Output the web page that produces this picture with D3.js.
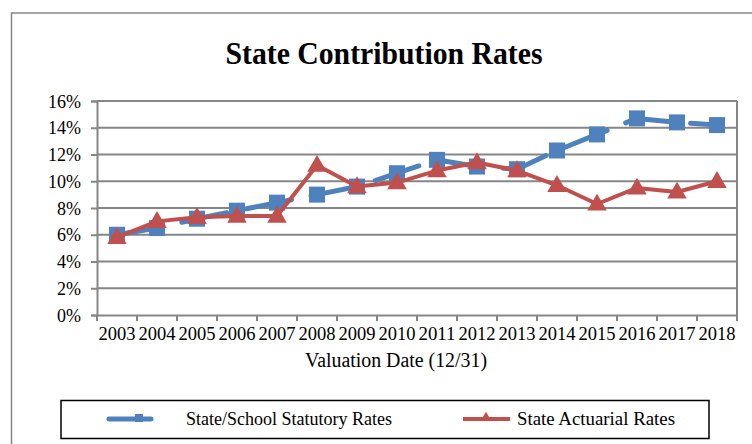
<!DOCTYPE html>
<html>
<head>
<meta charset="utf-8">
<script src="https://cdn.jsdelivr.net/npm/d3@7"></script>
<style>
  body { margin: 0; background: #fff; }
  svg text { font-family: "Liberation Serif", "Times New Roman", serif; fill: #000; }
</style>
</head>
<body>
<svg id="chart" width="752" height="444"></svg>
<script>
// ---- data ----
var years = ["2003","2004","2005","2006","2007","2008","2009","2010",
             "2011","2012","2013","2014","2015","2016","2017","2018"];
var statutory = [6.0, 6.5, 7.2, 7.8, 8.4, 9.0, 9.6, 10.6, 11.6, 11.1, 10.9, 12.3, 13.5, 14.7, 14.4, 14.2];
var actuarial = [5.8, 7.0, 7.3, 7.4, 7.4, 11.2, 9.6, 9.9, 10.8, 11.4, 10.8, 9.7, 8.3, 9.5, 9.2, 10.0];
var yTicks = [0, 2, 4, 6, 8, 10, 12, 14, 16];

var blue = "#4F81BD", red = "#C0504D", grid = "#868686";
var serif = '"Liberation Serif", "Times New Roman", serif';

var svg = d3.select("#chart");

// outer chart frame (runs off the right/bottom edge)
svg.append("rect")
  .attr("x", 11.5).attr("y", 13)
  .attr("width", 800).attr("height", 500)
  .attr("fill", "none").attr("stroke", grid).attr("stroke-width", 1.5);

// title
svg.append("text")
  .attr("x", 384).attr("y", 64)
  .attr("text-anchor", "middle")
  .attr("textLength", 317).attr("lengthAdjust", "spacingAndGlyphs")
  .style("font-size", "31px").style("font-weight", "bold")
  .text("State Contribution Rates");

var plot = { left: 97, right: 737, top: 101, bottom: 315 };

var x = d3.scaleBand().domain(years).range([plot.left, plot.right]);
var y = d3.scaleLinear().domain([0, 16]).range([plot.bottom, plot.top]);

// gridlines
svg.append("g").selectAll("line")
  .data(yTicks.filter(function(d){ return d > 0; }))
  .join("line")
  .attr("x1", plot.left).attr("x2", plot.right)
  .attr("y1", function(d){ return y(d); }).attr("y2", function(d){ return y(d); })
  .attr("stroke", grid).attr("stroke-width", 2);

// right border of plot area
svg.append("line")
  .attr("x1", plot.right).attr("x2", plot.right)
  .attr("y1", plot.top).attr("y2", plot.bottom)
  .attr("stroke", grid).attr("stroke-width", 2);

// y axis
var yAxis = svg.append("g")
  .attr("transform", "translate(" + plot.left + ",0)")
  .call(d3.axisLeft(y).tickValues(yTicks).tickSize(6).tickPadding(10)
        .tickFormat(function(d){ return d + "%"; }));
yAxis.attr("font-family", null).attr("font-size", null);
yAxis.select(".domain").attr("stroke", grid).attr("stroke-width", 2);
yAxis.selectAll(".tick line").attr("stroke", grid).attr("stroke-width", 2);
yAxis.selectAll("text")
  .attr("font-family", serif).attr("font-size", 19)
  .style("font-size", "19px").style("font-family", serif)
  .attr("textLength", 33).attr("lengthAdjust", "spacingAndGlyphs")
  .filter(function(d){ return d < 10; })
  .attr("textLength", 24);

// x axis: ticks sit between categories
var xAxis = svg.append("g")
  .attr("transform", "translate(0," + plot.bottom + ")")
  .call(d3.axisBottom(x).tickSize(0).tickPadding(12));
xAxis.attr("font-family", null).attr("font-size", null);
xAxis.select(".domain").attr("stroke", grid).attr("stroke-width", 2);
xAxis.selectAll("text")
  .attr("font-family", serif).attr("font-size", 19)
  .style("font-size", "19px").style("font-family", serif)
  .attr("textLength", 37).attr("lengthAdjust", "spacingAndGlyphs");
xAxis.selectAll(".sep")
  .data(d3.range(years.length + 1))
  .join("line")
  .attr("class", "sep")
  .attr("x1", function(i){ return plot.left + i * x.step(); })
  .attr("x2", function(i){ return plot.left + i * x.step(); })
  .attr("y1", 0).attr("y2", 6)
  .attr("stroke", grid).attr("stroke-width", 2);

// axis title
svg.append("text")
  .attr("x", 396).attr("y", 367)
  .attr("text-anchor", "middle")
  .attr("textLength", 182).attr("lengthAdjust", "spacingAndGlyphs")
  .style("font-size", "20.5px")
  .text("Valuation Date (12/31)");

var cx = function(d, i){ return x(years[i]) + x.bandwidth() / 2; };
var line = d3.line().x(function(d, i){ return cx(d, i); }).y(function(d){ return y(d); });

// statutory series: long-dash blue with squares
svg.append("path")
  .datum(statutory)
  .attr("d", line)
  .attr("fill", "none").attr("stroke", blue).attr("stroke-width", 5)
  .attr("stroke-linecap", "round").attr("stroke-linejoin", "round")
  .attr("stroke-dasharray", "46,20");

svg.append("g").selectAll("rect")
  .data(statutory)
  .join("rect")
  .attr("x", function(d, i){ return cx(d, i) - 8; })
  .attr("y", function(d){ return y(d) - 8; })
  .attr("width", 16).attr("height", 16)
  .attr("fill", blue);

// actuarial series: solid red with triangles
svg.append("path")
  .datum(actuarial)
  .attr("d", line)
  .attr("fill", "none").attr("stroke", red).attr("stroke-width", 4)
  .attr("stroke-linejoin", "round");

var tri = d3.symbol().type(d3.symbolTriangle).size(165);
svg.append("g").selectAll("path")
  .data(actuarial)
  .join("path")
  .attr("transform", function(d, i){ return "translate(" + cx(d, i) + "," + (y(d) + 1) + ")"; })
  .attr("d", tri)
  .attr("fill", red);

// legend
var lg = svg.append("g");
lg.append("rect")
  .attr("x", 61).attr("y", 400.5).attr("width", 648).attr("height", 38)
  .attr("fill", "#fff").attr("stroke", "#000").attr("stroke-width", 1.5);

lg.append("line")
  .attr("x1", 109).attr("x2", 151).attr("y1", 419).attr("y2", 419)
  .attr("stroke", blue).attr("stroke-width", 5).attr("stroke-linecap", "round");
lg.append("rect")
  .attr("x", 135).attr("y", 414).attr("width", 8).attr("height", 8)
  .attr("fill", blue);
lg.append("text")
  .attr("x", 186).attr("y", 425)
  .attr("textLength", 206).attr("lengthAdjust", "spacingAndGlyphs")
  .style("font-size", "18px")
  .text("State/School Statutory Rates");

lg.append("line")
  .attr("x1", 463).attr("x2", 510).attr("y1", 419).attr("y2", 419)
  .attr("stroke", red).attr("stroke-width", 4);
lg.append("path")
  .attr("transform", "translate(486,418)")
  .attr("d", d3.symbol().type(d3.symbolTriangle).size(50))
  .attr("fill", red);
lg.append("text")
  .attr("x", 517).attr("y", 425)
  .attr("textLength", 158).attr("lengthAdjust", "spacingAndGlyphs")
  .style("font-size", "18px")
  .text("State Actuarial Rates");
</script>
</body>
</html>
